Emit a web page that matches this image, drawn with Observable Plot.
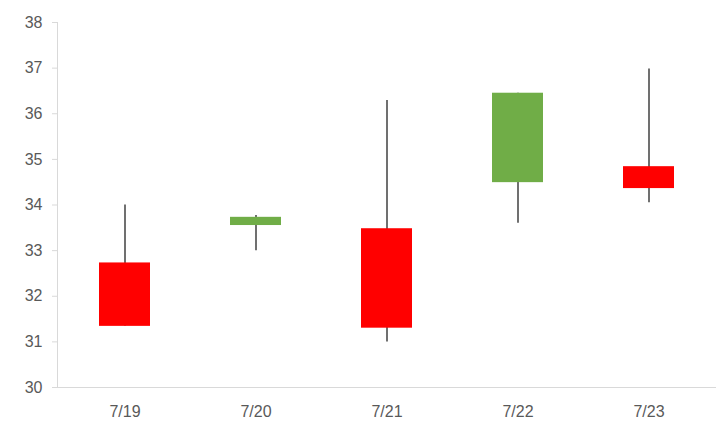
<!DOCTYPE html>
<html>
<head>
<meta charset="utf-8">
<script src="https://cdn.jsdelivr.net/npm/d3@7"></script>
<script src="https://cdn.jsdelivr.net/npm/@observablehq/plot@0.6"></script>
<style>
  html, body { margin: 0; padding: 0; background: #fff; }
  #chart svg { display: block; }
</style>
</head>
<body>
<div id="chart"></div>
<script>
const dates = ["7/19", "7/20", "7/21", "7/22", "7/23"];
const open  = [32.73, 33.55, 33.48, 34.49, 34.84];
const close = [31.34, 33.73, 31.30, 36.45, 34.36];
const high  = [34.00, 33.77, 36.29, 36.45, 36.98];
const low   = [31.34, 33.00, 31.00, 33.60, 34.05];
const yTicks = [30, 31, 32, 33, 34, 35, 36, 37, 38];

const data = dates.map((d, i) => ({
  date: d, open: open[i], close: close[i], high: high[i], low: low[i],
  up: close[i] >= open[i]
}));

const font = "'Liberation Sans', Arial, sans-serif";

const chart = Plot.plot({
  width: 726,
  height: 421,
  marginLeft: 57,
  marginRight: 11,
  marginTop: 22,
  marginBottom: 34,
  style: { fontFamily: font, fontSize: "16px", color: "#595959", background: "#fff" },
  x: { domain: dates, padding: 0, label: null },
  y: { domain: [30, 38], label: null },
  marks: [
    Plot.frame({ anchor: "left", stroke: "#d9d9d9" }),
    Plot.frame({ anchor: "bottom", stroke: "#d9d9d9" }),
    Plot.axisY(yTicks, { tickSize: 5, tickPadding: 10, stroke: "#d9d9d9", fill: "#595959", label: null }),
    Plot.axisX({ tickSize: 0, tickPadding: 18, fill: "#595959", label: null }),
    Plot.ruleX(data, { x: "date", y1: "low", y2: "high", stroke: "#404040", strokeWidth: 1.5 }),
    Plot.barY(data, {
      x: "date", y1: "open", y2: "close",
      fill: d => d.up ? "#70ad47" : "#ff0000",
      insetLeft: 40, insetRight: 40
    })
  ]
});
document.getElementById("chart").appendChild(chart);
</script>
</body>
</html>
